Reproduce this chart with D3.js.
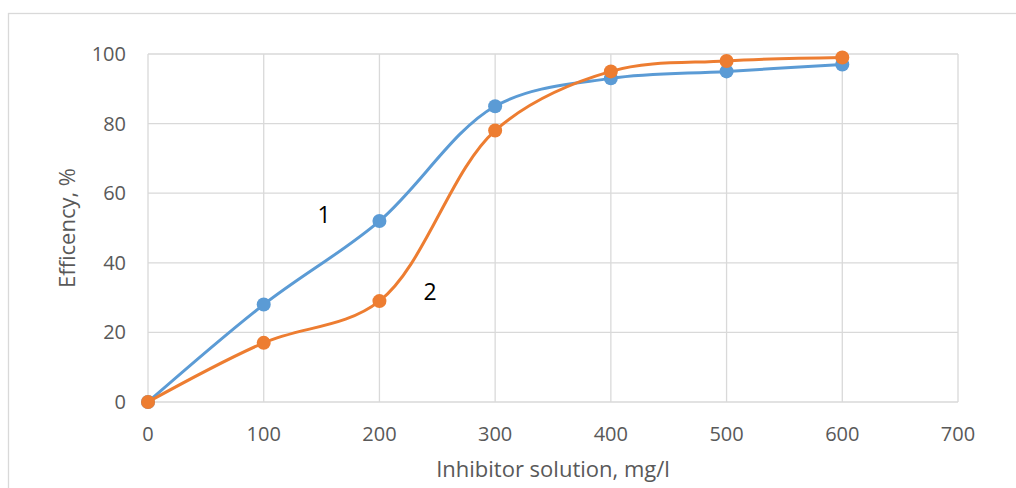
<!DOCTYPE html>
<html>
<head>
<meta charset="utf-8">
<script src="https://cdn.jsdelivr.net/npm/d3@7"></script>
<style>
  body { margin: 0; background: #fff; }
  svg { display: block; font-family: "Open Sans", Lato, sans-serif; }
</style>
</head>
<body>
<svg id="chart" width="1016" height="488"></svg>
<script>
// data
var xValues = [0, 100, 200, 300, 400, 500, 600]
var series1 = [0, 28, 52, 85, 93, 95, 97]
var series2 = [0, 17, 29, 78, 95, 98, 99]
var xTicks = [0, 100, 200, 300, 400, 500, 600, 700]
var yTicks = [0, 20, 40, 60, 80, 100]
var seriesNames = ["1", "2"]
var seriesColors = ["#5B9BD5", "#ED7D31"]

var margin = {left: 148, top: 54, right: 1016 - 958, bottom: 488 - 402}
var width = 1016, height = 488

var svg = d3.select("svg#chart")

// outer chart frame
svg.append("rect")
    .attr("x", 8.5).attr("y", 13.5)
    .attr("width", 1030).attr("height", 500)
    .attr("fill", "none")
    .attr("stroke", "#d9d9d9")
    .attr("stroke-width", 1.3)

var x = d3.scaleLinear().domain([0, 700]).range([margin.left, width - margin.right])
var y = d3.scaleLinear().domain([0, 100]).range([height - margin.bottom, margin.top])

// grid
var grid = svg.append("g").attr("stroke", "#d9d9d9").attr("stroke-width", 1.3)
grid.selectAll("line.h")
  .data(yTicks)
  .enter().append("line")
    .attr("x1", x(0)).attr("x2", x(700))
    .attr("y1", d => y(d)).attr("y2", d => y(d))
grid.selectAll("line.v")
  .data(xTicks)
  .enter().append("line")
    .attr("y1", y(0)).attr("y2", y(100))
    .attr("x1", d => x(d)).attr("x2", d => x(d))

// tick labels
svg.append("g")
    .attr("fill", "#595959")
    .attr("font-size", 20)
    .attr("text-anchor", "end")
  .selectAll("text")
  .data(yTicks)
  .enter().append("text")
    .attr("x", 126)
    .attr("y", d => y(d) + 7)
    .text(d => d)

svg.append("g")
    .attr("fill", "#595959")
    .attr("font-size", 20)
    .attr("text-anchor", "middle")
  .selectAll("text")
  .data(xTicks)
  .enter().append("text")
    .attr("x", d => x(d))
    .attr("y", 441)
    .text(d => d)

// axis titles
svg.append("text")
    .attr("x", 553).attr("y", 477)
    .attr("text-anchor", "middle")
    .attr("font-size", 22)
    .attr("fill", "#595959")
    .text("Inhibitor solution, mg/l")

svg.append("text")
    .attr("transform", "translate(75,228) rotate(-90)")
    .attr("text-anchor", "middle")
    .attr("font-size", 22)
    .attr("fill", "#595959")
    .text("Efficency, %")

// lines
var line = d3.line()
    .x(d => x(d[0]))
    .y(d => y(d[1]))
    .curve(d3.curveCatmullRom.alpha(0.5))

var allSeries = [series1, series2]
allSeries.forEach(function(vals, i) {
  var pts = xValues.map((xv, j) => [xv, vals[j]])
  svg.append("path")
      .datum(pts)
      .attr("fill", "none")
      .attr("stroke", seriesColors[i])
      .attr("stroke-width", 3)
      .attr("stroke-linecap", "round")
      .attr("d", line)
  svg.append("g").selectAll("circle")
    .data(pts)
    .enter().append("circle")
      .attr("cx", d => x(d[0]))
      .attr("cy", d => y(d[1]))
      .attr("r", 7)
      .attr("fill", seriesColors[i])
})

// series labels
svg.append("text")
    .attr("x", 324).attr("y", 223)
    .attr("text-anchor", "middle")
    .attr("font-size", 23)
    .attr("fill", "#000")
    .text(seriesNames[0])
svg.append("text")
    .attr("x", 430).attr("y", 300)
    .attr("text-anchor", "middle")
    .attr("font-size", 23)
    .attr("fill", "#000")
    .text(seriesNames[1])
</script>
</body>
</html>
